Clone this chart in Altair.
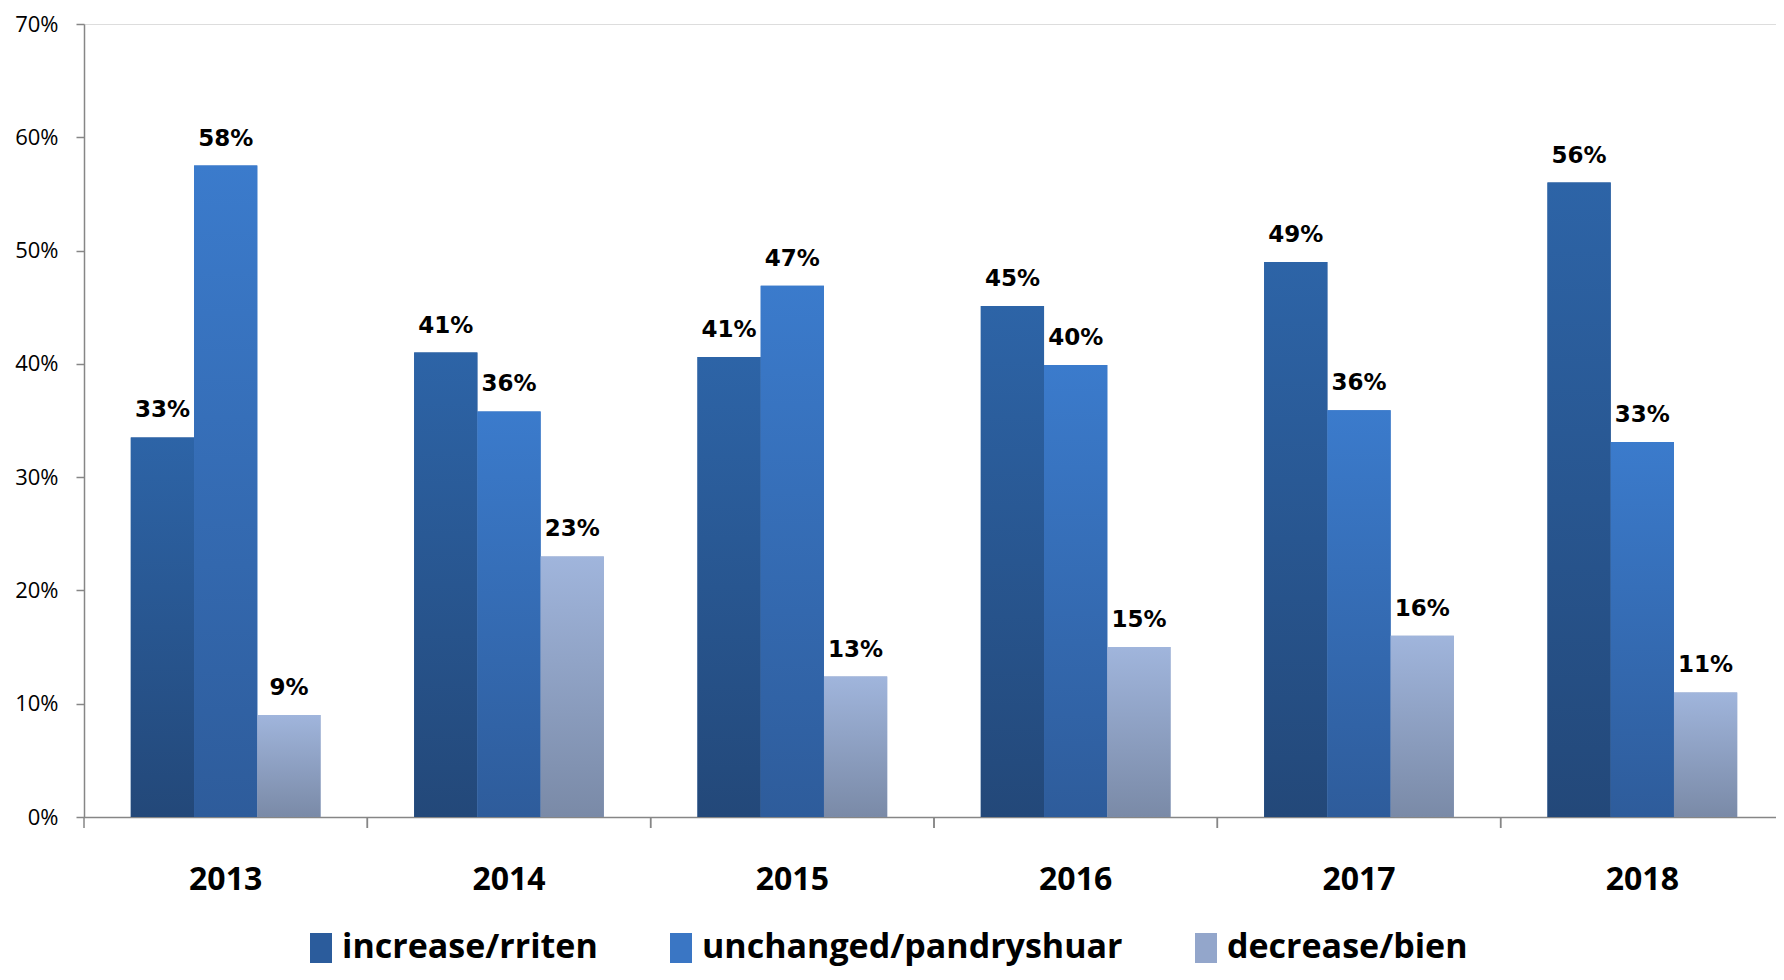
import altair as alt
import pandas as pd

years = ["2013", "2014", "2015", "2016", "2017", "2018"]
series = ["increase/rriten", "unchanged/pandryshuar", "decrease/bien"]
increase = [0.335, 0.410, 0.406, 0.451, 0.490, 0.560]
unchanged = [0.575, 0.358, 0.469, 0.399, 0.359, 0.331]
decrease = [0.090, 0.230, 0.124, 0.150, 0.160, 0.110]
labels_inc = ["33%", "41%", "41%", "45%", "49%", "56%"]
labels_unch = ["58%", "36%", "47%", "40%", "36%", "33%"]
labels_dec = ["9%", "23%", "13%", "15%", "16%", "11%"]
y_ticks = [0, 0.1, 0.2, 0.3, 0.4, 0.5, 0.6, 0.7]

legend_colors = ["#2B5C9C", "#3A76C4", "#93A6CB"]
grad_stops = {
    series[0]: ("#2D64A7", "#234879"),
    series[1]: ("#3B7BCC", "#2E5C9B"),
    series[2]: ("#A0B5DC", "#7A8AA7"),
}

rows = []
for vals, labs, s in [(increase, labels_inc, series[0]),
                      (unchanged, labels_unch, series[1]),
                      (decrease, labels_dec, series[2])]:
    for y, v, l in zip(years, vals, labs):
        rows.append({"year": y, "series": s, "value": v, "label": l})
df = pd.DataFrame(rows)

W, H = 1692, 793
X_RANGE = 1700
AXIS_GRAY = "#868686"

x_enc = alt.X("year:N", sort=years,
              scale=alt.Scale(paddingInner=0, paddingOuter=0, range=[0, X_RANGE]),
              axis=alt.Axis(title=None, ticks=False, labelPadding=47,
                            labelFont="Open Sans", labelFontWeight="bold",
                            labelFontSize=32, labelColor="#000000",
                            domainColor=AXIS_GRAY, domainWidth=1.5,
                            labelAngle=0))
xoff_enc = alt.XOffset("series:N", sort=series,
                       scale=alt.Scale(domain=series, paddingOuter=0.74, paddingInner=0))
y_enc = alt.Y("value:Q",
              scale=alt.Scale(domain=[0, 0.7], nice=False),
              axis=alt.Axis(title=None, format=".0%", values=y_ticks, grid=False,
                            tickSize=8, tickColor=AXIS_GRAY, tickWidth=1.5,
                            domainColor=AXIS_GRAY, domainWidth=1.5,
                            labelPadding=18, labelFont="Open Sans",
                            labelFontSize=22, labelColor="#000000"))

base = alt.Chart(df)

legend_bars = base.mark_bar().encode(
    x=x_enc, xOffset=xoff_enc, y=y_enc,
    color=alt.Color("series:N", sort=series,
                    scale=alt.Scale(domain=series, range=legend_colors),
                    legend=alt.Legend(title=None, orient="none", direction="horizontal",
                                      legendX=220, legendY=907,
                                      symbolType="M-0.733,-1H0.733V1H-0.733Z",
                                      symbolSize=900,
                                      symbolStrokeWidth=0, symbolOpacity=1,
                                      labelFont="Open Sans", labelFontWeight="bold",
                                      labelFontSize=34, labelColor="#000000",
                                      labelLimit=0, labelOffset=4,
                                      columnPadding=66)),
)

grad_layers = []
for s in series:
    top, bottom = grad_stops[s]
    grad_layers.append(
        base.transform_filter(alt.datum.series == s).mark_bar(
            fill=alt.Gradient(gradient="linear",
                              stops=[alt.GradientStop(color=top, offset=0),
                                     alt.GradientStop(color=bottom, offset=1)],
                              x1=0, x2=0, y1=0, y2=1)
        ).encode(x=x_enc, xOffset=xoff_enc, y=y_enc)
    )

text = base.mark_text(font="DejaVu Sans", fontWeight="bold", fontSize=23,
                      color="#000000", baseline="alphabetic", dy=-20).encode(
    x=x_enc, xOffset=xoff_enc, y=y_enc, text="label:N")

tick_df = pd.DataFrame({"year": years})
ticks_left = alt.Chart(tick_df).mark_rule(color=AXIS_GRAY, strokeWidth=1.5).encode(
    x=alt.X("year:N", sort=years, bandPosition=0),
    y=alt.value(H), y2=alt.value(H + 11))
ticks_right = alt.Chart(tick_df).mark_rule(color=AXIS_GRAY, strokeWidth=1.5).encode(
    x=alt.X("year:N", sort=years, bandPosition=1),
    y=alt.value(H), y2=alt.value(H + 11))

chart = alt.layer(legend_bars, *grad_layers, text, ticks_left, ticks_right).properties(
    width=W, height=H,
    autosize=alt.AutoSizeParams(type="none"),
    padding={"left": 76, "top": 16, "right": 0, "bottom": 155},
).configure_view(stroke=None).configure(font="Open Sans")

chart.save("out.html", embed_options={"renderer": "svg", "actions": False})
